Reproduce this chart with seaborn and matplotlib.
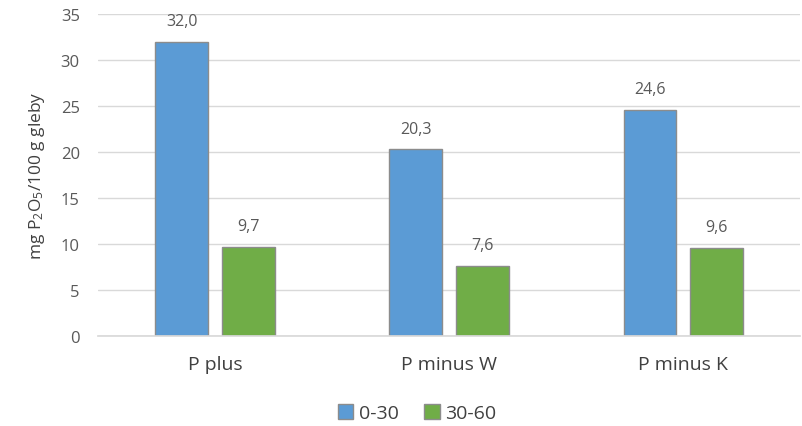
import pandas as pd
import matplotlib
matplotlib.use("Agg")
import matplotlib.pyplot as plt
import seaborn as sns

categories = ["P plus", "P minus W", "P minus K"]
depths = ["0-30", "30-60"]
vals_0_30 = [32.0, 20.3, 24.6]
vals_30_60 = [9.7, 7.6, 9.6]

df = pd.DataFrame({
    "cat": categories * 2,
    "depth": [depths[0]] * 3 + [depths[1]] * 3,
    "val": vals_0_30 + vals_30_60,
})

sns.set_theme(style="white")
plt.rcParams["font.family"] = ["Open Sans", "DejaVu Sans"]
plt.rcParams["mathtext.fontset"] = "custom"
plt.rcParams["mathtext.rm"] = "Open Sans"
plt.rcParams["mathtext.it"] = "Open Sans"

txt = "#595959"
fig = plt.figure(figsize=(8.02, 4.27), dpi=100)
ax = fig.add_axes([0.122, 0.211, 0.876, 0.754])

sns.barplot(data=df, x="cat", y="val", hue="depth", order=categories,
            hue_order=depths, palette=["#5B9BD5", "#70AD47"],
            width=0.57, gap=0.21, edgecolor="#8c8c8c", linewidth=1,
            saturation=1, ax=ax, legend=True)

for cont in ax.containers:
    labels = [f"{b.get_height():.1f}".replace(".", ",") for b in cont]
    ax.bar_label(cont, labels=labels, padding=9, color=txt, fontsize=11.5)

ax.set_ylim(0, 35)
ax.set_yticks(range(0, 36, 5))
ax.set_xlim(-0.5, 2.5)
ax.yaxis.grid(True, color="#d9d9d9", linewidth=1)
ax.set_axisbelow(True)
for s in ["top", "right", "left"]:
    ax.spines[s].set_visible(False)
ax.spines["bottom"].set_color("#d9d9d9")
ax.tick_params(axis="y", labelsize=12, labelcolor=txt, length=0, pad=13)
ax.tick_params(axis="x", labelsize=14, labelcolor="#404040", length=0, pad=14)
ax.set_xlabel("")
ax.set_ylabel(r"mg P$_2$O$_5$/100 g gleby", fontsize=12.5, color="#404040", labelpad=10)

handles, lbls = ax.get_legend_handles_labels()
ax.get_legend().remove()
fig.legend(handles, lbls, loc="lower center", bbox_to_anchor=(0.52, -0.032), ncol=2,
           frameon=False, fontsize=14, handlelength=0.8, handleheight=0.8,
           handletextpad=0.3, columnspacing=1.3, labelcolor="#404040")

fig.savefig("out.png", dpi=100)
